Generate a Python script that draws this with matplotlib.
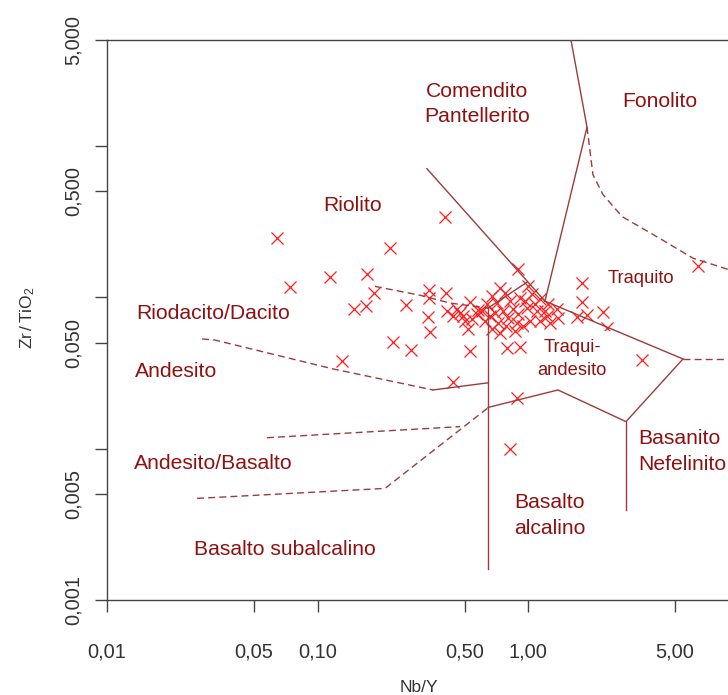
import matplotlib
matplotlib.use('Agg')
import matplotlib.pyplot as plt

plt.rcParams['font.family'] = ['Liberation Sans', 'DejaVu Sans']
plt.rcParams['mathtext.fontset'] = 'custom'
plt.rcParams['mathtext.rm'] = 'Liberation Sans'
plt.rcParams['mathtext.it'] = 'Liberation Sans:italic'

# sample points (Nb/Y, Zr/TiO2)
nb_y = [0.0642, 0.0740, 0.1147, 0.1718, 0.2211, 0.4034, 0.1855, 0.1700, 0.1491, 0.2633,
        0.3386, 0.4078, 0.3386, 0.3349, 0.3424, 0.2284, 0.2780, 0.1307, 0.5302, 0.5302,
        0.5188, 0.5787, 0.4402, 0.8964, 1.805, 1.805, 2.272, 1.907, 1.709, 2.373,
        3.480, 6.42, 0.8213, 0.8865, 0.7947, 0.9163, 0.4122,
        0.4600, 0.4753, 0.4913, 0.4402, 0.6044, 0.6745, 0.7362, 0.7775, 0.7124, 0.8213,
        0.9163, 1.000, 1.045, 1.140, 1.245, 1.373, 1.231, 1.103, 0.989, 0.8964,
        0.8035, 0.7202, 0.6745, 0.7362, 0.8865, 0.9467, 1.022, 1.140, 1.272, 1.388,
        0.6386, 0.5725, 0.5022, 0.8487, 0.7606, 0.6970, 0.9677, 1.080, 1.204, 0.6248,
        0.6599, 0.5420, 0.7860, 0.8675]
zr_tio2 = [0.2445, 0.1164, 0.1354, 0.1417, 0.2101, 0.3411, 0.1062, 0.0873, 0.0834, 0.0886,
           0.1112, 0.1062, 0.0985, 0.0738, 0.0589, 0.0506, 0.0448, 0.0379, 0.0927, 0.0441,
           0.0616, 0.0821, 0.0276, 0.1528, 0.1237, 0.0927, 0.0797, 0.0762, 0.0738, 0.0625,
           0.0385, 0.1599, 0.0100, 0.0217, 0.0462, 0.0469, 0.0809,
           0.0834, 0.0785, 0.0750, 0.0750, 0.0809, 0.1015, 0.1146, 0.1062, 0.0913, 0.0941,
           0.0985, 0.1181, 0.1047, 0.0970, 0.0899, 0.0834, 0.0750, 0.0809, 0.0847, 0.0773,
           0.0727, 0.0674, 0.0616, 0.0580, 0.0674, 0.0645, 0.0695, 0.0695, 0.0674, 0.0727,
           0.0899, 0.0773, 0.0695, 0.0834, 0.0809, 0.0785, 0.0941, 0.0899, 0.0809, 0.0695,
           0.0750, 0.0717, 0.0645, 0.0597]

# field boundaries: x, y, solid/dashed
bounds = [
    ([0.331, 1.204], [0.706, 0.0942], '-'),
    ([1.600, 1.907, 1.204], [5.0, 1.33, 0.0942], '-'),
    ([1.907, 2.035, 2.272, 2.797, 4.238, 6.08, 10.0], [1.33, 0.644, 0.476, 0.341, 0.244, 0.181, 0.145], '--'),
    ([1.204, 5.448], [0.0942, 0.0391], '-'),
    ([5.448, 10.0], [0.0391, 0.0391], '--'),
    ([0.1875, 0.3069, 0.426, 0.6457], [0.118, 0.103, 0.0915, 0.0848], '--'),
    ([0.6457, 0.989], [0.0848, 0.1256], '-'),
    ([0.6457, 0.6457], [0.0848, 0.0016], '-'),
    ([0.0283, 0.0326, 0.1185, 0.3538], [0.0530, 0.0521, 0.0336, 0.0244], '--'),
    ([0.3538, 0.6457], [0.0244, 0.0272], '-'),
    ([0.0575, 0.4753], [0.0118, 0.01397], '--'),
    ([0.0268, 0.2093, 0.6457], [0.00469, 0.00546, 0.0186], '--'),
    ([0.6457, 1.388, 2.921, 5.448], [0.0187, 0.0244, 0.01507, 0.0391], '-'),
    ([2.921, 2.921], [0.01507, 0.00391], '-'),
]

# field names
fields = [
    ('Fonolito', 4.24, 1.95, 15.2, 'center'),
    ('Comendito\nPantellerito', 0.573, 1.89, 15.2, 'center'),
    ('Riolito', 0.146, 0.403, 15.2, 'center'),
    ('Traquito', 3.44, 0.133, 13.2, 'center'),
    ('Riodacito/Dacito', 0.0319, 0.0786, 15.2, 'center'),
    ('Andesito', 0.0213, 0.0321, 15.2, 'center'),
    ('Andesito/Basalto', 0.0319, 0.00796, 15.2, 'center'),
    ('Basanito\nNefelinito', 3.33, 0.00955, 15.2, 'left'),
    ('Basalto\nalcalino', 0.857, 0.00362, 15.2, 'left'),
    ('Basalto subalcalino', 0.0702, 0.00217, 15.2, 'center'),
]

x_ticks = [0.01, 0.05, 0.1, 0.5, 1, 5]
x_labels = ['0,01', '0,05', '0,10', '0,50', '1,00', '5,00']
y_ticks = [0.001, 0.005, 0.01, 0.05, 0.1, 0.5, 1, 5]
y_labels = ['0,001', '0,005', '', '0,050', '', '0,500', '', '5,000']

line_col = '#9c3b3b'
text_col = '#8e1111'
axis_col = '#444444'

fig = plt.figure(figsize=(7.28, 6.95), dpi=100)
ax = fig.add_axes([107 / 728, 95 / 695, 631.5 / 728, 560 / 695])
ax.set_xscale('log')
ax.set_yscale('log')

ax.plot(nb_y, zr_tio2, 'x', color='#ff1a1a', ms=8.5, mew=0.9, zorder=2)

for xs, ys, ls in bounds:
    if ls == '--':
        ax.plot(xs, ys, color=line_col, lw=1.0, ls=(0, (5, 3)), zorder=3)
    else:
        ax.plot(xs, ys, color=line_col, lw=1.0, zorder=3)

for txt, x, y, fs, ha in fields:
    ax.text(x, y, txt, color=text_col, fontsize=fs, ha=ha, va='center',
            linespacing=1.45, zorder=4)

ax.text(1.62, 0.0391, 'Traqui-\nandesito', color=text_col, fontsize=13.2,
        ha='center', va='center', linespacing=1.4, zorder=2.5,
        bbox=dict(facecolor='white', edgecolor='none', pad=6))

ax.set_xlim(0.01, 10)
ax.set_ylim(0.001, 5)
ax.minorticks_off()
ax.set_xticks(x_ticks)
ax.set_xticklabels(x_labels)
ax.set_yticks(y_ticks)
ax.set_yticklabels(y_labels, rotation=90, va='center')
ax.tick_params(axis='both', direction='out', length=8.6, width=1.0, color=axis_col,
               labelcolor='#333333', labelsize=14.4)
ax.tick_params(axis='x', pad=22)
ax.tick_params(axis='y', pad=9)
for s in ['left', 'bottom', 'top']:
    ax.spines[s].set_color(axis_col)
    ax.spines[s].set_linewidth(1.0)
ax.spines['right'].set_visible(False)

fig.text(419 / 728, 1 - 688 / 695, 'Nb/Y', fontsize=12.5, color='#333333',
         ha='center', va='center')
fig.text(28 / 728, 1 - 318 / 695, r'$\mathrm{Zr\,/\,TiO_2}$', fontsize=12.5,
         color='#333333', rotation=90, ha='center', va='center')

fig.savefig('out.png', dpi=100)
